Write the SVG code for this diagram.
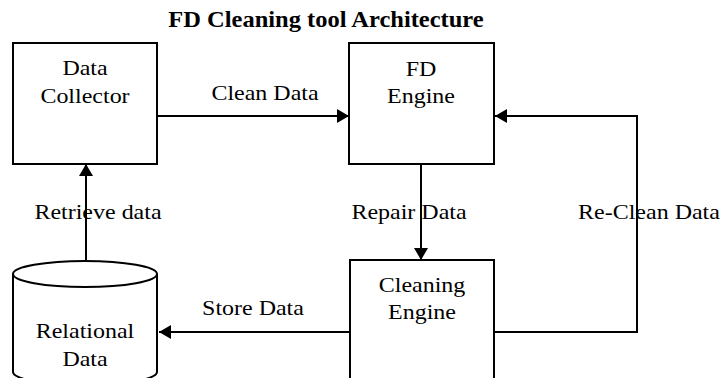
<svg xmlns="http://www.w3.org/2000/svg" width="722" height="378" viewBox="0 0 722 378">
<defs>
<style>
.box{fill:#fff;stroke:#000;stroke-width:2}
.t{font-family:"Liberation Serif","Times New Roman",serif;font-size:22px;fill:#000;text-anchor:middle}
.title{font-family:"Liberation Serif","Times New Roman",serif;font-size:23px;font-weight:bold;fill:#000;text-anchor:middle}
.c{fill:none;stroke:#000;stroke-width:2}
</style>
<marker id="ah" viewBox="0 0 12 14" refX="12" refY="7" markerWidth="12" markerHeight="14" markerUnits="userSpaceOnUse" orient="auto">
<path d="M0,0 L12,7 L0,14 Z" fill="#000"/>
</marker>
</defs>
<rect width="722" height="378" fill="#fff"/>
<text class="title" transform="translate(326,27) scale(1.065,1)">FD Cleaning tool Architecture</text>
<g id="connectors">
<line class="c" x1="157" y1="116" x2="349" y2="116" marker-end="url(#ah)"/>
<line class="c" x1="421" y1="164" x2="421" y2="260" marker-end="url(#ah)"/>
<line class="c" x1="350" y1="332" x2="159" y2="332" marker-end="url(#ah)"/>
<line class="c" x1="86" y1="261" x2="86" y2="164" marker-end="url(#ah)"/>
<polyline class="c" points="494,332 637,332 637,116 495,116" marker-end="url(#ah)"/>
<text class="t" transform="translate(265,100) scale(1.09,1)">Clean Data</text>
<text class="t" transform="translate(98,219) scale(1.09,1)">Retrieve data</text>
<text class="t" transform="translate(409,219) scale(1.09,1)">Repair Data</text>
<text class="t" transform="translate(649,219) scale(1.09,1)">Re-Clean Data</text>
<text class="t" transform="translate(253,315) scale(1.09,1)">Store Data</text>
</g>
<g id="data-collector">
<rect class="box" x="13" y="43" width="144" height="121"/>
<text class="t" transform="translate(85,75) scale(1.09,1)">Data</text>
<text class="t" transform="translate(85,103) scale(1.09,1)">Collector</text>
</g>
<g id="fd-engine">
<rect class="box" x="349" y="43" width="145" height="121"/>
<text class="t" transform="translate(421,76) scale(1.09,1)">FD</text>
<text class="t" transform="translate(421,103) scale(1.09,1)">Engine</text>
</g>
<g id="cleaning-engine">
<rect class="box" x="350" y="260" width="144" height="130"/>
<text class="t" transform="translate(422,292) scale(1.09,1)">Cleaning</text>
<text class="t" transform="translate(422,319) scale(1.09,1)">Engine</text>
</g>
<g id="relational-data">
<path class="box" d="M13,274 L13,372 A72,13 0 0 0 157,372 L157,274"/>
<ellipse class="box" cx="85" cy="274" rx="72" ry="13"/>
<text class="t" transform="translate(85,338) scale(1.09,1)">Relational</text>
<text class="t" transform="translate(85,366) scale(1.09,1)">Data</text>
</g>
</svg>
